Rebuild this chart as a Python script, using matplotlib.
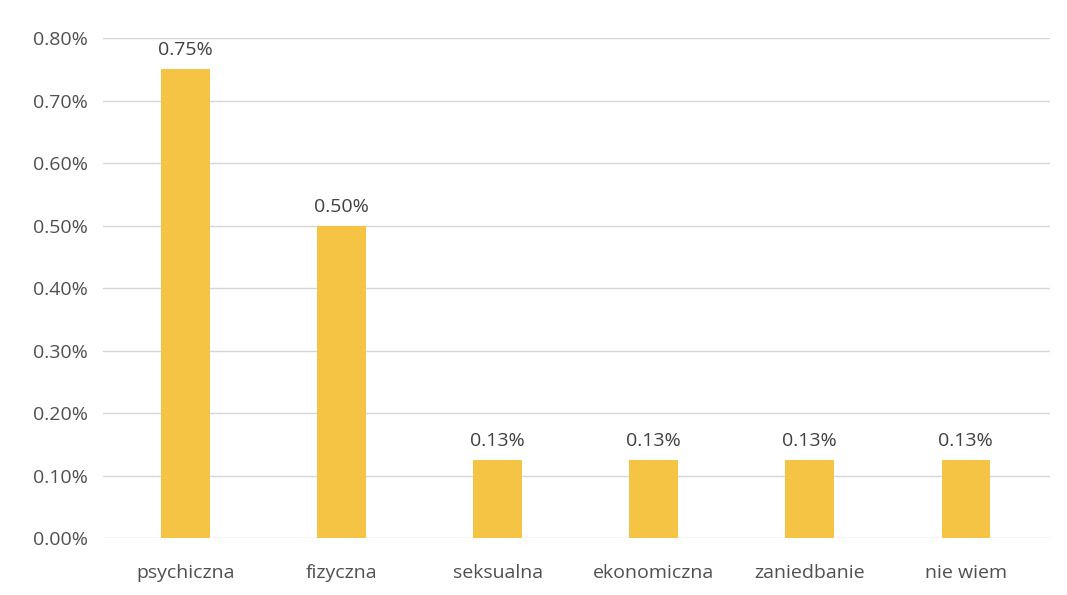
import matplotlib.pyplot as plt
from matplotlib.ticker import FuncFormatter

# dane z wykresu (procenty)
kategorie = ['psychiczna', 'fizyczna', 'seksualna', 'ekonomiczna', 'zaniedbanie', 'nie wiem']
wartosci = [0.75, 0.50, 0.125, 0.125, 0.125, 0.125]
etykiety = ['0.75%', '0.50%', '0.13%', '0.13%', '0.13%', '0.13%']

plt.rcParams['font.family'] = ['Open Sans', 'DejaVu Sans']

fig = plt.figure(figsize=(10.67, 5.95), dpi=100)
ax = fig.add_axes([0.0965, 0.0958, 0.8875, 0.8403])

x = range(len(kategorie))
bars = ax.bar(x, wartosci, width=0.31, color='#F6C445', zorder=3)

for b, t in zip(bars, etykiety):
    ax.text(b.get_x() + b.get_width() / 2, b.get_height() + 0.016, t,
            ha='center', va='bottom', fontsize=14, color='#404040')

ax.set_ylim(0, 0.8)
ax.set_xlim(-0.53, 5.54)
ax.set_yticks([i / 10 for i in range(9)])
ax.yaxis.set_major_formatter(FuncFormatter(lambda v, p: f'{v:.2f}%'))
ax.set_xticks(list(x))
ax.set_xticklabels(kategorie)

ax.grid(axis='y', color='#D6D6D6', linewidth=1, zorder=0)
for s in ax.spines.values():
    s.set_visible(False)
ax.tick_params(axis='both', length=0, labelsize=14, labelcolor='#505050')
ax.tick_params(axis='y', pad=11)
ax.tick_params(axis='x', pad=19)

fig.savefig('out.png', dpi=100)
